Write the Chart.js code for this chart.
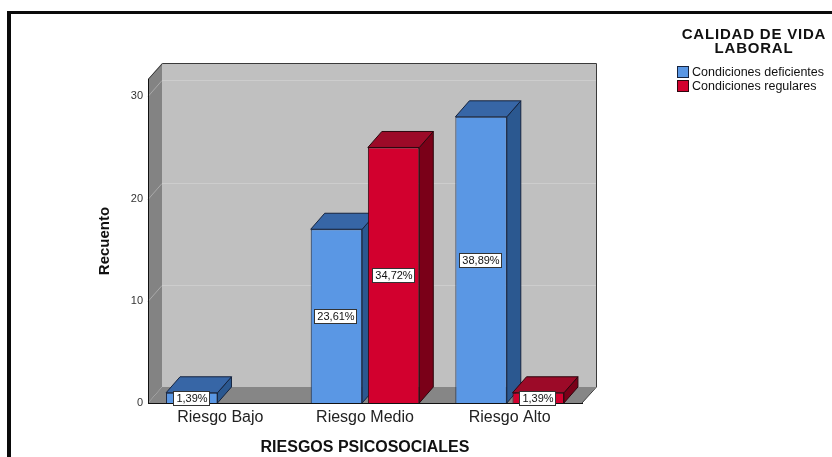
<!DOCTYPE html>
<html><head><meta charset="utf-8">
<script src="https://cdn.jsdelivr.net/npm/chart.js@4.4.1/dist/chart.umd.min.js"></script>
<style>
html,body{margin:0;padding:0;background:#fff;overflow:hidden;width:832px;height:457px;}
#frame{position:absolute;left:7px;top:11px;width:900px;height:500px;border-left:4px solid #0a0a0a;border-top:3px solid #0a0a0a;}
#c{position:absolute;left:0;top:0;}
#ltitle{position:absolute;left:676px;top:27px;width:156px;text-align:center;font:bold 15px/14px 'Liberation Sans',Arial,sans-serif;letter-spacing:0.8px;color:#111;}
.sw{position:absolute;left:677px;width:10px;height:10px;border:1px solid #222;}
.lt{position:absolute;left:692px;font:12.5px/14px 'Liberation Sans',Arial,sans-serif;color:#111;white-space:nowrap;}
</style></head><body>
<div id="frame"></div>
<canvas id="c" width="832" height="457"></canvas>
<div id="ltitle"></div>
<div id="leg"></div>
<script>
// ---- data ----
const categories = ['Riesgo Bajo', 'Riesgo Medio', 'Riesgo Alto'];
const seriesNames = ['Condiciones deficientes', 'Condiciones regulares'];
const deficientes = [1, 17, 28];
const regulares = [0, 25, 1];
const yTicks = [0, 10, 20, 30];
const yMax = 31.7;
const legendTitle = ['CALIDAD DE VIDA', 'LABORAL'];
const xTitle = 'RIESGOS PSICOSOCIALES';
const yTitle = 'Recuento';

// ---- styles ----
const FONT = "'Liberation Sans', Arial, sans-serif";
const COLORS = [
  {front:'#5a97e4', side:'#2b5890', top:'#3766a6', edge:'#16243f'},
  {front:'#d2002e', side:'#7a0018', top:'#9c0a28', edge:'#2c070e'}
];
const DX = 14, DY = -16;
const total = deficientes.concat(regulares).reduce((a,b)=>a+b,0);

// legend (HTML)
document.getElementById('ltitle').innerHTML = legendTitle.join('<br>');
const leg = document.getElementById('leg');
seriesNames.forEach((n,i)=>{
  const top = 66 + i*14;
  const sw = document.createElement('div'); sw.className='sw';
  sw.style.top = top+'px'; sw.style.background = COLORS[i].front; sw.style.borderColor = COLORS[i].edge;
  const t = document.createElement('div'); t.className='lt'; t.style.top=(top-1)+'px'; t.textContent = n;
  leg.appendChild(sw); leg.appendChild(t);
});

function poly(ctx, pts, fill, stroke){
  ctx.beginPath(); ctx.moveTo(pts[0][0], pts[0][1]);
  for(let i=1;i<pts.length;i++) ctx.lineTo(pts[i][0], pts[i][1]);
  ctx.closePath();
  if(fill){ctx.fillStyle=fill; ctx.fill();}
  if(stroke){ctx.strokeStyle=stroke; ctx.lineWidth=1; ctx.stroke();}
}

const box3d = {
  id:'box3d',
  beforeDraw(chart){
    const ctx = chart.ctx, a = chart.chartArea, ys = chart.scales.y;
    const L=a.left, R=a.right, T=a.top, B=a.bottom;
    ctx.save();
    ctx.fillStyle='#c0c0c0'; ctx.fillRect(L+DX, T+DY, R-L, B-T);
    poly(ctx, [[L,B],[L,T],[L+DX,T+DY],[L+DX,B+DY]], '#838383');
    poly(ctx, [[L,B],[R,B],[R+DX,B+DY],[L+DX,B+DY]], '#868686');
    yTicks.forEach(v=>{
      if(v===0) return;
      const py = Math.round(ys.getPixelForValue(v))+0.5;
      ctx.lineWidth=1;
      ctx.strokeStyle='#a9a9a9';
      ctx.beginPath(); ctx.moveTo(L, py); ctx.lineTo(L+DX, py+DY); ctx.stroke();
      ctx.strokeStyle='#cdcdcd';
      ctx.beginPath(); ctx.moveTo(L+DX, py+DY); ctx.lineTo(R+DX, py+DY); ctx.stroke();
    });
    ctx.strokeStyle='#3a3a3a'; ctx.lineWidth=1;
    ctx.beginPath();
    ctx.moveTo(L+0.5, T); ctx.lineTo(L+DX+0.5, T+DY+0.5); ctx.lineTo(R+DX+0.5, T+DY+0.5);
    ctx.lineTo(R+DX+0.5, B+DY); ctx.lineTo(R, B);
    ctx.stroke();
    ctx.restore();
  },
  beforeDatasetsDraw(chart){
    const ctx = chart.ctx;
    const items = [];
    chart.data.datasets.forEach((ds,di)=>{
      chart.getDatasetMeta(di).data.forEach((el,i)=>{
        if(ds.data[i] > 0) items.push({el, c:COLORS[di]});
      });
    });
    items.sort((p,q)=>p.el.x-q.el.x);
    ctx.save();
    items.forEach(({el,c})=>{
      const l = el.x - el.width/2, r = el.x + el.width/2, t = el.y, b = el.base;
      poly(ctx, [[r,t],[r+DX,t+DY],[r+DX,b+DY],[r,b]], c.side, c.edge);
      poly(ctx, [[l,t],[r,t],[r+DX,t+DY],[l+DX,t+DY]], c.top, c.edge);
    });
    ctx.restore();
  },
  afterDatasetsDraw(chart){
    const ctx = chart.ctx;
    ctx.save();
    ctx.font = '11px ' + FONT;
    ctx.textAlign='center'; ctx.textBaseline='middle';
    chart.data.datasets.forEach((ds,di)=>{
      chart.getDatasetMeta(di).data.forEach((el,i)=>{
        const v = ds.data[i];
        if(!(v>0)) return;
        const txt = (v/total*100).toFixed(2).replace('.',',') + '%';
        const w = Math.round(ctx.measureText(txt).width) + 6, h = 15;
        const cx = Math.round(el.x), cy = Math.round((el.y + el.base)/2);
        const x0 = cx - Math.round(w/2), y0 = cy - 7;
        ctx.fillStyle='#fff'; ctx.fillRect(x0, y0, w, h);
        ctx.strokeStyle='#333'; ctx.lineWidth=1; ctx.strokeRect(x0+0.5, y0+0.5, w-1, h-1);
        ctx.fillStyle='#111'; ctx.fillText(txt, cx, cy+1);
      });
    });
    ctx.restore();
  }
};

new Chart(document.getElementById('c'), {
  type:'bar',
  data:{
    labels: categories,
    datasets:[
      {label:seriesNames[0], data:deficientes, backgroundColor:COLORS[0].front, borderColor:COLORS[0].edge, borderWidth:1, categoryPercentage:0.79, barPercentage:0.9},
      {label:seriesNames[1], data:regulares, backgroundColor:COLORS[1].front, borderColor:COLORS[1].edge, borderWidth:1, categoryPercentage:0.79, barPercentage:0.9}
    ]
  },
  options:{
    responsive:false, animation:false,
    layout:{padding:{left:88, right:250, top:79, bottom:0}},
    plugins:{legend:{display:false}, tooltip:{enabled:false}},
    scales:{
      x:{
        grid:{display:false, drawTicks:false},
        border:{display:true, color:'#111', width:1},
        ticks:{padding:5, color:'#222', font:{family:FONT, size:16}},
        title:{display:true, text:xTitle, color:'#111', font:{family:FONT, size:16, weight:'bold'}, padding:{top:0,bottom:0}},
        afterFit(s){ s.height = 54; }
      },
      y:{
        min:0, max:yMax,
        grid:{display:false, drawTicks:false},
        border:{display:true, color:'#111', width:1},
        ticks:{padding:5, color:'#333', font:{family:FONT, size:11}},
        afterBuildTicks(s){ s.ticks = yTicks.map(v=>({value:v})); },
        title:{display:true, text:yTitle, color:'#111', font:{family:FONT, size:15, weight:'bold'}, padding:{top:8,bottom:0}},
        afterFit(s){ s.width = 60; }
      }
    }
  },
  plugins:[box3d]
});
</script>
</body></html>
